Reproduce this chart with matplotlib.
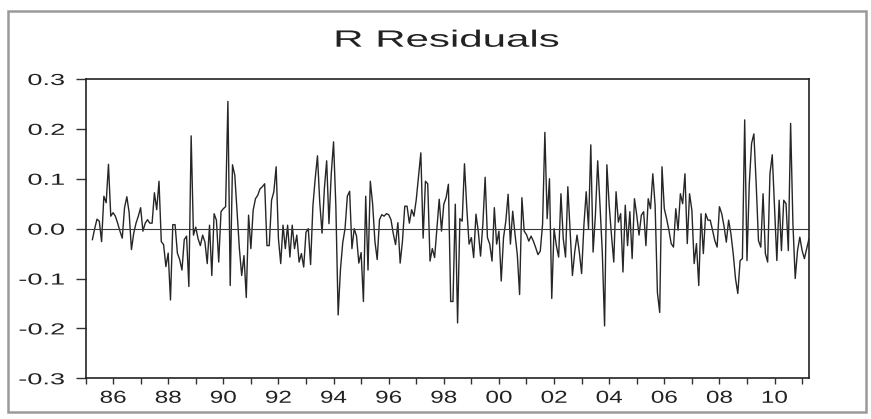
import matplotlib
matplotlib.use('Agg')
import numpy as np
import matplotlib.pyplot as plt
import matplotlib.patheffects as pe
from matplotlib.transforms import Affine2D
from matplotlib.patches import Rectangle

# monthly residuals, sample starts 1985M01 but the first three obs are NA
sample_start = 1985
first_obs_month = 4
resid = [
    -0.022, 0.000, 0.019, 0.015, -0.026, 0.065, 0.052, 0.129, 0.025, 0.032,
    0.025, 0.011, -0.005, -0.019, 0.042, 0.064, 0.032, -0.042, -0.009, 0.011,
    0.025, 0.042, -0.005, 0.011, 0.018, 0.011, 0.011, 0.072, 0.038, 0.095,
    -0.026, -0.032, -0.076, -0.049, -0.143, 0.008, 0.008, -0.049, -0.062, -0.083,
    -0.022, -0.015, -0.116, 0.186,
    -0.013, 0.003, -0.020, -0.034, -0.013, -0.027, -0.070, 0.007, -0.094, 0.030,
    0.017, -0.067, 0.034, 0.040, 0.044, 0.255, -0.114, 0.128, 0.107, 0.034,
    -0.040, -0.094, -0.054, -0.138, 0.027, -0.040, 0.037, 0.060, 0.067, 0.080,
    0.084, 0.090, -0.034, -0.034, 0.057, 0.074, 0.124, -0.020, -0.070, 0.007,
    -0.040, 0.007, -0.057, 0.007, -0.040, -0.013, -0.067, -0.050, -0.077, -0.007,
    0.000, -0.072,
    0.045, 0.100, 0.146, 0.052, -0.009, 0.080, 0.136, 0.010, 0.110, 0.174,
    0.045, -0.173, -0.082, -0.028, 0.000, 0.065, 0.075, -0.040, 0.000, -0.015,
    -0.069, -0.048, -0.146, 0.065, -0.083, 0.095, 0.050, -0.025, -0.062, 0.018,
    0.028, 0.025, 0.030, 0.028, 0.018, -0.010, -0.032, 0.012, -0.069, -0.025,
    0.045, 0.045, 0.011, 0.038, 0.025, 0.058, 0.105, 0.152, -0.019, 0.095,
    0.090, -0.065, -0.040, -0.058, 0.000, 0.059, -0.005, 0.049, 0.062, 0.089,
    -0.146, -0.146, 0.049, -0.189, 0.020, 0.015, 0.130, 0.042, -0.031, -0.018,
    -0.058, 0.029, -0.005, -0.055, 0.009, 0.103, -0.018, -0.031, -0.065, 0.042,
    -0.031, -0.005, -0.105, -0.018, 0.015, 0.069, -0.031, 0.035, -0.011, -0.052,
    -0.132, 0.062, -0.005, -0.012, -0.025, -0.015, -0.025, -0.038, -0.052, -0.045,
    0.009, 0.193,
    0.020, 0.100, -0.140, 0.000, -0.034, -0.057, 0.070, -0.020, -0.057, 0.084,
    -0.007, -0.094, -0.047, -0.013, -0.047, -0.090, 0.007, 0.074, 0.000, 0.168,
    -0.047, 0.027, 0.136, 0.047, -0.047, -0.195, 0.128, 0.047, -0.013, -0.067,
    0.074, 0.013, 0.030, -0.087, 0.047, -0.034, 0.034, -0.060, 0.060, 0.027,
    -0.013, 0.027, 0.034, -0.034, 0.060, 0.040, 0.110, 0.047, -0.128, -0.168,
    0.124, 0.040, 0.020,
    -0.003, -0.030, -0.037, 0.040, -0.003, 0.070, 0.050, 0.110, -0.030, 0.070,
    0.037, -0.070, -0.030, -0.114, 0.030, -0.050, 0.030, 0.017, 0.017, -0.003,
    -0.024, -0.037, 0.044, 0.030, 0.005, -0.027, 0.017, -0.010, -0.050, -0.100,
    -0.130, -0.064, -0.060, 0.218, -0.064, 0.090, 0.171, 0.190, 0.090, -0.024,
    -0.037, 0.070, -0.050, -0.067, 0.110, 0.148, 0.044, -0.064, 0.057, -0.044,
    0.057, 0.050, -0.044, 0.211, 0.010, -0.100, -0.044, -0.017, -0.044, -0.060,
    -0.040, -0.020,
]
sample_end = 2011.25

year_ticks = list(range(1985, 2012))
x_label_years = [1986, 1988, 1990, 1992, 1994, 1996, 1998, 2000, 2002, 2004, 2006, 2008, 2010]
x_labels = ['86', '88', '90', '92', '94', '96', '98', '00', '02', '04', '06', '08', '10']
y_ticks = [-0.3, -0.2, -0.1, 0.0, 0.1, 0.2, 0.3]
y_labels = ['-0.3', '-0.2', '-0.1', '0.0', '0.1', '0.2', '0.3']
title = 'R Residuals'


class Stretch(pe.AbstractPathEffect):
    # widen glyphs horizontally, the scanned EViews fonts are very wide
    def __init__(self, sx, anchor='center'):
        super().__init__()
        self.sx = sx
        self.anchor = anchor

    def draw_path(self, renderer, gc, tpath, affine, rgbFace=None):
        x0, _, x1, _ = tpath.get_extents().extents
        cx = x1 if self.anchor == 'right' else (x0 + x1) / 2
        st = Affine2D().translate(-cx, 0).scale(self.sx, 1).translate(cx, 0)
        renderer.draw_path(gc, tpath, st + affine, rgbFace)


plt.rcParams['font.family'] = ['Liberation Sans', 'DejaVu Sans']

t = sample_start + (np.arange(len(resid)) + first_obs_month - 1) / 12

fig = plt.figure(figsize=(8.71, 4.19), dpi=100)
ax = fig.add_axes([85.5 / 871, 40.7 / 419, 723.5 / 871, 299.3 / 419])

ax.plot(t, resid, color='#262626', lw=1.0)
ax.axhline(0, color='#3a3a3a', lw=0.8)

ax.set_xlim(sample_start, sample_end)
ax.set_ylim(-0.3, 0.3)

ax.set_xticks(x_label_years)
ax.set_xticks(year_ticks, minor=True)
xl = ax.set_xticklabels(x_labels, fontsize=12.5, color='#222222')
ax.set_yticks(y_ticks)
yl = ax.set_yticklabels(y_labels, fontsize=11.5, color='#222222')
for lab in xl:
    lab.set_path_effects([Stretch(1.4)])
for lab in yl:
    lab.set_path_effects([Stretch(1.7, 'right')])

ax.tick_params(axis='x', which='both', direction='out', length=4, width=1.0,
               color='#333333', pad=5)
ax.tick_params(axis='y', direction='out', length=7, width=1.0, color='#333333', pad=8)

for side in ['left', 'right', 'top', 'bottom']:
    ax.spines[side].set_color('#222222')
    ax.spines[side].set_linewidth(1.2)

tt = fig.text(447 / 871, 1 - 46.7 / 419, title, ha='center', va='baseline',
              fontsize=17, color='#222222')
tt.set_path_effects([Stretch(1.78)])

# grey frame round the whole graph
fig.patches.append(Rectangle((8 / 871, 7 / 419), 858 / 871, 401 / 419,
                             transform=fig.transFigure, fill=False,
                             edgecolor='#9a9a9a', lw=1.8))

fig.savefig('out.png', dpi=100)
